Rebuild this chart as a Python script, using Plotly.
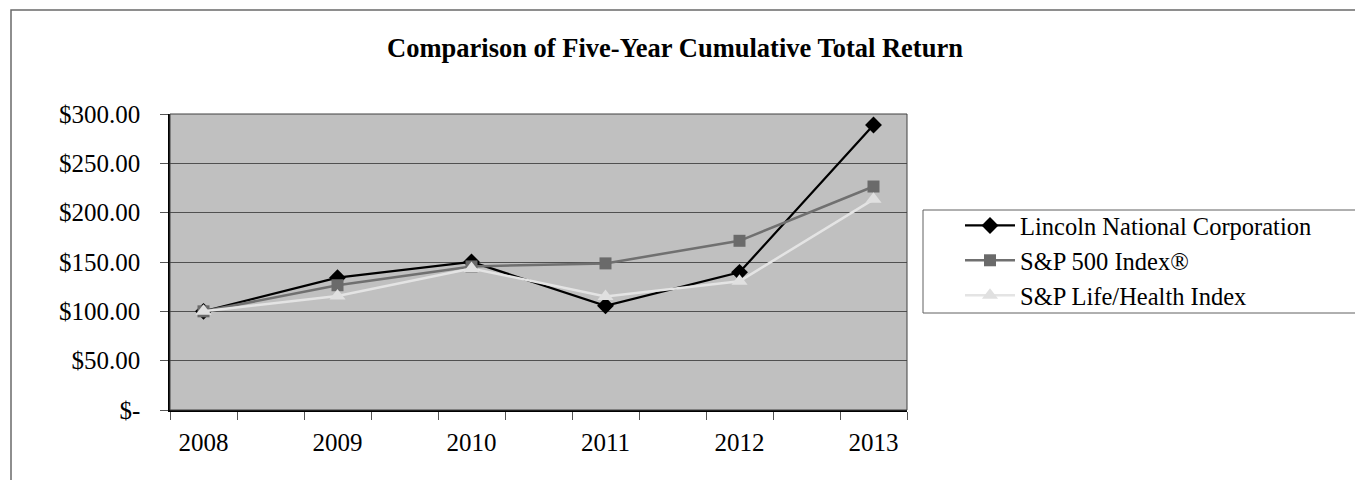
import plotly.graph_objects as go

# ---- data ----
years = ["2008", "2009", "2010", "2011", "2012", "2013"]
lincoln = [100.00, 134.10, 150.08, 105.66, 139.50, 288.79]
sp500 = [100.00, 126.46, 145.51, 148.59, 171.50, 226.50]
life_health = [100.00, 115.60, 143.50, 115.00, 130.50, 213.50]
series_names = ["Lincoln National Corporation", "S&P 500 Index®", "S&P Life/Health Index"]
y_tick_values = [0, 50, 100, 150, 200, 250, 300]
y_tick_labels = ["$-", "$50.00", "$100.00", "$150.00", "$200.00", "$250.00", "$300.00"]

OFF = 8  # page body margin in the browser
W, H = 1363 - OFF, 480 - OFF
PL, PR, PT, PB = 170, 907, 114, 410  # plot area pixel box (page coords)
FONT = "Liberation Serif"

def px_x(p):
    return (p - PL) / (PR - PL)

def px_y(p):
    return (PB - p) / (PB - PT)

xpos = list(range(len(years)))

fig = go.Figure()
fig.add_trace(go.Scatter(
    x=xpos, y=lincoln, name=series_names[0], mode="lines+markers",
    line=dict(color="#000000", width=2.25),
    marker=dict(symbol="diamond", size=13, color="#000000"),
    legendgroup="a"))
fig.add_trace(go.Scatter(
    x=xpos, y=sp500, name=series_names[1], mode="lines+markers",
    line=dict(color="#707070", width=2.5),
    marker=dict(symbol="square", size=12, color="#6a6a6a"),
    legendgroup="b"))
fig.add_trace(go.Scatter(
    x=xpos, y=life_health, name=series_names[2], mode="lines+markers",
    line=dict(color="#e4e4e4", width=2.5),
    marker=dict(symbol="triangle-up", size=14, color="#e0e0e0"),
    legendgroup="c"))

fig.update_layout(
    width=W, height=H, autosize=False,
    margin=dict(l=PL - OFF, r=(W + OFF) - PR, t=PT - OFF, b=(H + OFF) - PB, pad=0),
    paper_bgcolor="white", plot_bgcolor="#c0c0c0",
    font=dict(family=FONT, size=24, color="#000000"),
    title=dict(text="<b>Comparison of Five-Year Cumulative Total Return</b>",
               x=(675 - OFF) / W, xanchor="center", y=1 - (48 - OFF) / H, yanchor="middle",
               font=dict(family=FONT, size=26.5, color="#000000")),
    legend=dict(x=px_x(960), xanchor="left", y=px_y(203), yanchor="top",
                bgcolor="rgba(0,0,0,0)", borderwidth=0,
                font=dict(family=FONT, size=24.5), tracegroupgap=0,
                itemwidth=50),
    showlegend=True,
)

fig.update_xaxes(
    range=[-0.25, 5.25], tickmode="array", tickvals=xpos, ticktext=years,
    ticks="", showgrid=False, zeroline=False,
    showline=True, linecolor="#000000", linewidth=1.5,
    tickfont=dict(family=FONT, size=25), ticklabelstandoff=9,
    minor=dict(ticks="outside", tick0=-0.25, dtick=0.5, ticklen=8,
               tickcolor="#555555", tickwidth=1, showgrid=False),
)
fig.update_yaxes(
    range=[0, 300], tickmode="array", tickvals=y_tick_values, ticktext=y_tick_labels,
    ticks="outside", ticklen=8, tickcolor="#555555", tickwidth=1,
    showgrid=True, gridcolor="#505050", gridwidth=1, zeroline=False,
    showline=True, linecolor="#000000", linewidth=1.5,
    tickfont=dict(family=FONT, size=25), ticklabelstandoff=15,
)

# plot area border (top/right)
fig.add_shape(type="rect", xref="paper", yref="paper", x0=0, x1=1, y0=0, y1=1,
              line=dict(color="#404040", width=1), layer="above")
# outer chart border
fig.add_shape(type="rect", xref="paper", yref="paper",
              x0=px_x(11), x1=px_x(1380), y0=px_y(500), y1=px_y(10),
              line=dict(color="#6a6a6a", width=1.5), layer="below")
# legend box
fig.add_shape(type="rect", xref="paper", yref="paper",
              x0=px_x(923), x1=px_x(1360), y0=px_y(313), y1=px_y(210),
              line=dict(color="#606060", width=1), fillcolor="white", layer="below")

fig.write_html("out.html")
